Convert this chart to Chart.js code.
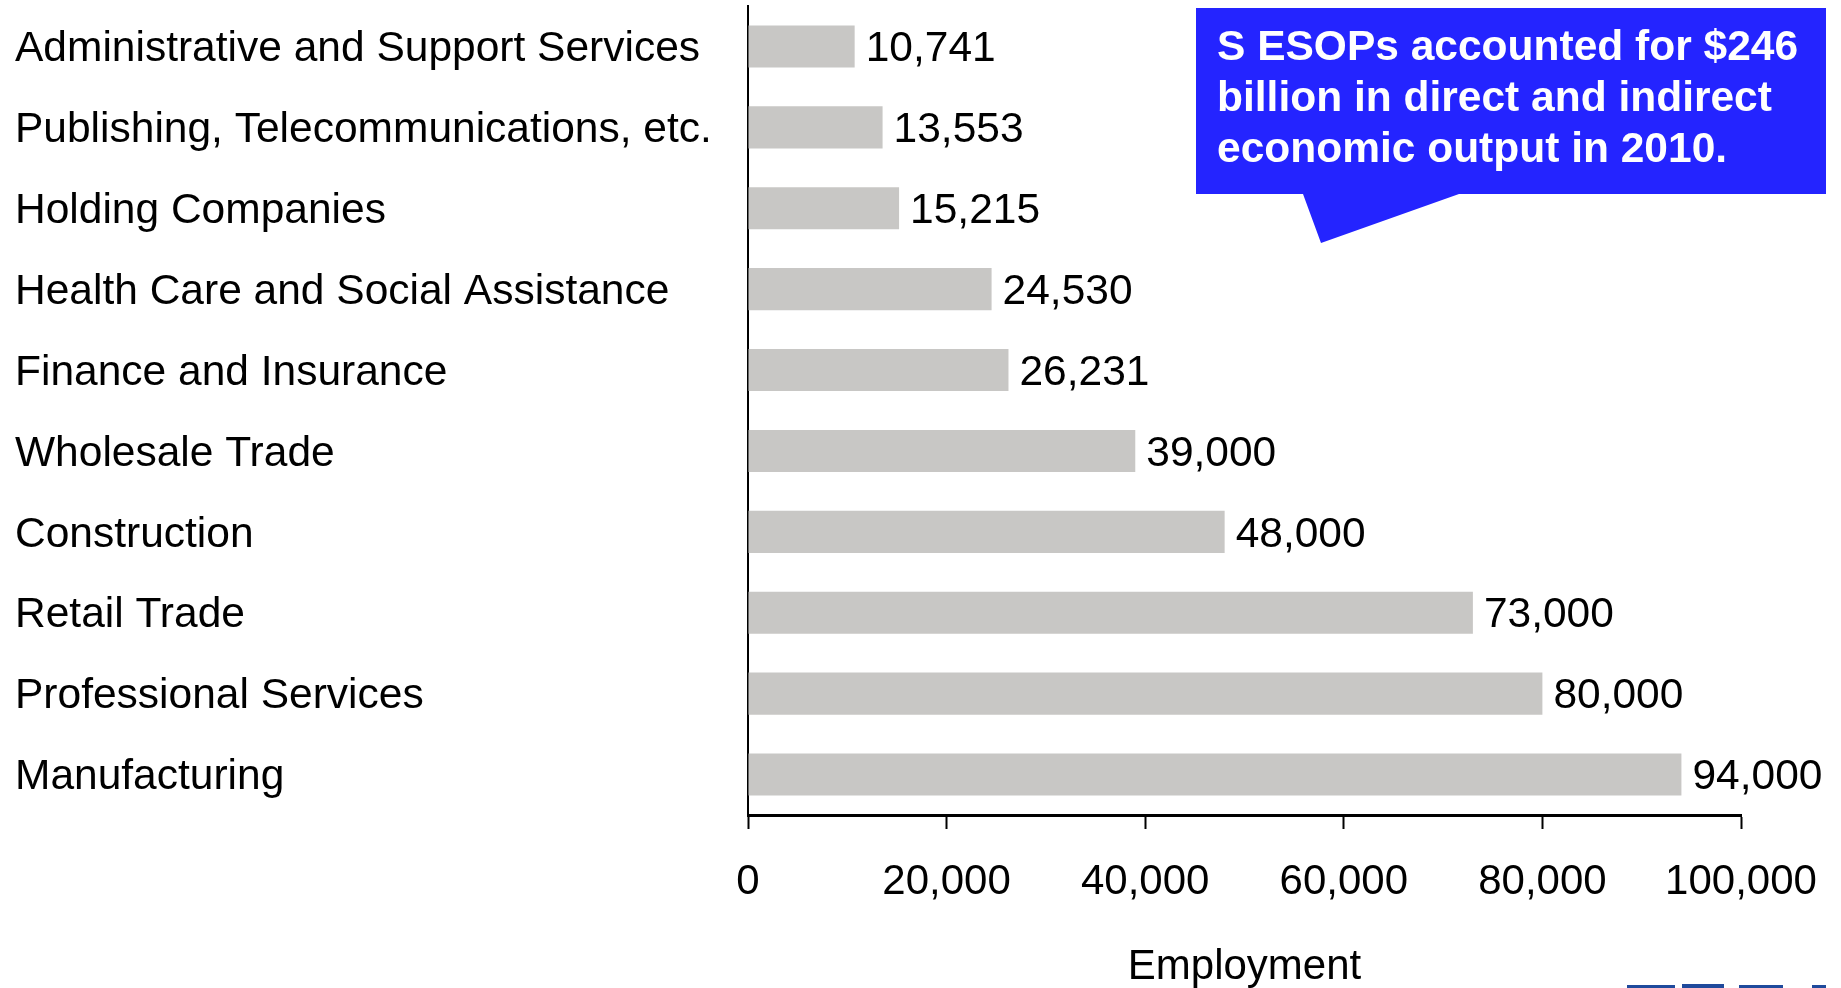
<!DOCTYPE html>
<html>
<head>
<meta charset="utf-8">
<title>S ESOP Employment by Industry</title>
<script src="https://cdn.jsdelivr.net/npm/chart.js@4.4.1/dist/chart.umd.min.js"></script>
<style>
  html, body { margin: 0; padding: 0; background: #fff; }
  #wrap { width: 1841px; height: 988px; position: relative; }
</style>
</head>
<body>
<div id="wrap"><canvas id="employmentChart" width="1841" height="988"></canvas></div>
<script>
// industries, top to bottom
const industries = [
    'Administrative and Support Services',
    'Publishing, Telecommunications, etc.',
    'Holding Companies',
    'Health Care and Social Assistance',
    'Finance and Insurance',
    'Wholesale Trade',
    'Construction',
    'Retail Trade',
    'Professional Services',
    'Manufacturing'
];
const employment = [10741, 13553, 15215, 24530, 26231, 39000, 48000, 73000, 80000, 94000];
const xTicks = [0, 20000, 40000, 60000, 80000, 100000];
const calloutLines = [
    'S ESOPs accounted for $246',
    'billion in direct and indirect',
    'economic output in 2010.'
];

const FONT = "'Liberation Sans', Arial, Helvetica, sans-serif";

function fmt(n) {
    return n.toLocaleString('en-US');
}

// value labels at the end of each bar
const valueLabels = {
    id: 'valueLabels',
    afterDatasetsDraw(chart) {
        const ctx = chart.ctx;
        const meta = chart.getDatasetMeta(0);
        ctx.save();
        ctx.font = '42.5px ' + FONT;
        ctx.fillStyle = '#000';
        ctx.textAlign = 'left';
        ctx.textBaseline = 'middle';
        meta.data.forEach((bar, i) => {
            ctx.fillText(fmt(employment[i]), bar.x + 11, bar.y + 3);
        });
        ctx.restore();
    }
};

// blue speech bubble in the top right corner
const callout = {
    id: 'callout',
    afterDraw(chart) {
        const ctx = chart.ctx;
        ctx.save();
        ctx.fillStyle = '#2424ff';
        ctx.beginPath();
        ctx.moveTo(1196, 8);
        ctx.lineTo(1826, 8);
        ctx.lineTo(1826, 194);
        ctx.lineTo(1459, 194);
        ctx.lineTo(1321, 243);
        ctx.lineTo(1303, 194);
        ctx.lineTo(1196, 194);
        ctx.closePath();
        ctx.fill();

        ctx.fillStyle = '#fff';
        ctx.font = 'bold 42.5px ' + FONT;
        ctx.textAlign = 'left';
        ctx.textBaseline = 'alphabetic';
        calloutLines.forEach((line, i) => {
            ctx.fillText(line, 1217, 60 + i * 51);
        });

        // edge of the logo below the axis title
        ctx.fillStyle = '#1f4a9c';
        ctx.fillRect(1627, 985, 48, 3);
        ctx.fillRect(1682, 984, 42, 4);
        ctx.fillRect(1739, 985, 44, 3);
        ctx.fillRect(1812, 985, 14, 3);
        ctx.restore();
    }
};

const ctx = document.getElementById('employmentChart').getContext('2d');
const employmentChart = new Chart(ctx, {
    type: 'bar',
    data: {
        labels: industries,
        datasets: [{
            data: employment,
            backgroundColor: '#c8c7c5',
            borderWidth: 0,
            barPercentage: 0.52,
            categoryPercentage: 1.0
        }]
    },
    options: {
        indexAxis: 'y',
        responsive: false,
        animation: false,
        layout: {
            padding: { left: 15, right: 100, top: 6, bottom: 0 }
        },
        plugins: {
            legend: { display: false },
            tooltip: { enabled: false }
        },
        scales: {
            y: {
                grid: { display: false },
                border: { display: true, color: '#000', width: 2 },
                ticks: {
                    crossAlign: 'far',
                    labelOffset: 3,
                    color: '#000',
                    font: { family: FONT, size: 42.5 }
                },
                afterFit(scale) {
                    scale.width = 733;
                    // no extra room above/below the category band
                    scale.paddingTop = 0;
                    scale.paddingBottom = 0;
                }
            },
            x: {
                min: 0,
                max: 100000,
                afterBuildTicks(scale) {
                    scale.ticks = xTicks.map(v => ({ value: v }));
                },
                grid: {
                    drawOnChartArea: false,
                    drawTicks: true,
                    tickLength: 14,
                    tickWidth: 2,
                    color: '#000'
                },
                border: { display: true, color: '#000', width: 3 },
                ticks: {
                    color: '#000',
                    padding: 28,
                    maxRotation: 0,
                    font: { family: FONT, size: 42 },
                    callback: v => fmt(v)
                },
                title: {
                    display: true,
                    text: 'Employment',
                    color: '#000',
                    padding: 0,
                    font: { family: FONT, size: 42, lineHeight: 1.0 }
                },
                afterFit(scale) {
                    scale.height = 173;
                    scale.paddingLeft = 0;
                    scale.paddingRight = 0;
                }
            }
        }
    },
    plugins: [valueLabels, callout]
});
</script>
</body>
</html>
